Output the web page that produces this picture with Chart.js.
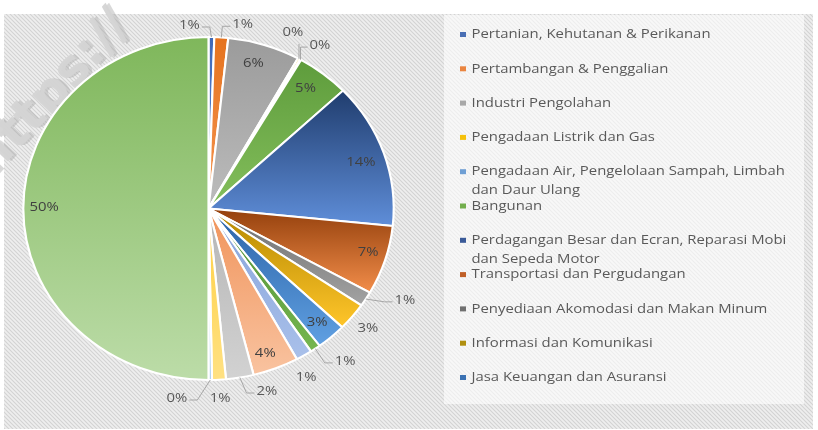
<!DOCTYPE html>
<html>
<head>
<meta charset="utf-8">
<script src="https://cdn.jsdelivr.net/npm/chart.js@4.4.0/dist/chart.umd.min.js"></script>
<style>
html,body{margin:0;padding:0;background:#fff;}
#wrap{width:818px;height:430px;position:relative;}
</style>
</head>
<body>
<div id="wrap"><canvas id="c"></canvas></div>
<script>
// ---------- data ----------
const categories = [
  'Pertanian, Kehutanan & Perikanan',
  'Pertambangan & Penggalian',
  'Industri Pengolahan',
  'Pengadaan Listrik dan Gas',
  'Pengadaan Air, Pengelolaan Sampah, Limbah dan Daur Ulang',
  'Bangunan',
  'Perdagangan Besar dan Ecran, Reparasi Mobi dan Sepeda Motor',
  'Transportasi dan Pergudangan',
  'Penyediaan Akomodasi dan Makan Minum',
  'Informasi dan Komunikasi',
  'Jasa Keuangan dan Asuransi',
  'Real Estat',
  'Jasa Perusahaan',
  'Administrasi Pemerintahan, Pertahanan dan Jaminan Sosial Wajib',
  'Jasa Pendidikan',
  'Jasa Kesehatan dan Kegiatan Sosial',
  'Jasa Lainnya',
  'Total'
];
const shareValues = [0.5, 1.2, 6.3, 0.2, 0.1, 4.6, 13.65, 6.5, 1.4, 2.6, 2.6, 0.9, 1.4, 4.0, 2.4, 1.2, 0.3, 49.85];
const legendShown = 11;
const watermarkText = 'https://';

// ---------- styles ----------
const topColors = ['#3f69b8','#e5731f','#9b9b9b','#f2b500','#4a8bc8','#5e9c3c','#203d6e','#94400c','#6c6c6c','#b38700','#2a62a6','#4f8e36','#86a3da','#f0935a','#b5b5b5','#ffcf40','#82b2df','#7fb75b'];
const bottomColors = ['#5d8ad8','#f59550','#bcbcbc','#ffca33','#6aa8e0','#84bf5c','#5f8ed9','#f28d4a','#a3a3a3','#ffc52a','#60a0e2','#76b64e','#a9c0ea','#f9c3a0','#d2d2d2','#ffe183','#a9ccee','#bcdca8'];
const markerColors = ['#4a6fb4','#ea8540','#a8a8a8','#f5c10c','#6f9fd4','#72ae4c','#3a5a98','#c06028','#707070','#b08f10','#3b72b3'];
// label placement: inside (fraction of radius) or outside (fraction + angle nudge in degrees)
const labelLayout = [
  {out:true, dist:1.075, nudge:-6.4, leader:true},
  {out:true, dist:1.09, nudge:5.8, leader:true},
  {out:false, dist:0.88, nudge:-1.5},
  {out:true, dist:1.126, nudge:-5.35, leader:true},
  {out:true, dist:1.127, nudge:2.5, leader:true},
  {out:false, dist:0.875, nudge:-1.5},
  {out:false, dist:0.867, nudge:0.5},
  {out:false, dist:0.9, nudge:-1},
  {out:true, dist:1.187, nudge:-5.2, leader:true},
  {out:true, dist:1.108, nudge:0},
  {out:false, dist:0.884, nudge:0},
  {out:true, dist:1.155, nudge:-4.5, leader:true},
  {out:true, dist:1.115, nudge:2.85},
  {out:false, dist:0.896, nudge:1.3},
  {out:true, dist:1.11, nudge:-6.75, leader:true},
  {out:true, dist:1.107, nudge:0},
  {out:true, dist:1.118, nudge:9.3, leader:true},
  {out:false, dist:0.888, nudge:0.5}
];
const STRETCH = 1.08;
const FONT_FAMILY = "'Open Sans', 'Noto Sans', sans-serif";
const FONT_SIZE = 13;

const total = shareValues.reduce((a,b)=>a+b,0);
let textScale = 1.08;

function gradientFor(c){
  const chart = c.chart, a = chart.chartArea, i = c.dataIndex;
  if (!a) return topColors[i];
  let cum = 0;
  for (let j=0;j<i;j++) cum += shareValues[j];
  const a0 = cum/total*2*Math.PI - Math.PI/2;
  const a1 = (cum+shareValues[i])/total*2*Math.PI - Math.PI/2;
  const cy = (a.top+a.bottom)/2;
  const r = 171.5;
  const ys = [cy, cy + r*Math.sin(a0), cy + r*Math.sin(a1)];
  [-Math.PI/2, Math.PI/2, 3*Math.PI/2].forEach(t => { if (t>=a0-1e-9 && t<=a1+1e-9) ys.push(cy + r*Math.sin(t)); });
  const y0 = Math.min(...ys), y1 = Math.max(...ys);
  const g = chart.ctx.createLinearGradient(0, y0, 0, Math.max(y1, y0+1));
  g.addColorStop(0, topColors[i]);
  g.addColorStop(1, bottomColors[i]);
  return g;
}

function stretchedText(ctx, text, x, y, sx){
  ctx.save();
  ctx.translate(x, y);
  ctx.scale(sx, 1);
  ctx.fillText(text, 0, 0);
  ctx.restore();
}

const decoPlugin = {
  id: 'deco',
  beforeDraw(chart){
    const ctx = chart.ctx;
    ctx.save();
    ctx.fillStyle = '#ffffff';
    ctx.fillRect(0,0,chart.width,chart.height);
    // hatch pattern
    const p = document.createElement('canvas');
    p.width = 4; p.height = 4;
    const pc = p.getContext('2d');
    pc.fillStyle = '#eeeeee'; pc.fillRect(0,0,4,4);
    pc.strokeStyle = '#d2d2d2'; pc.lineWidth = 1.1;
    pc.beginPath(); pc.moveTo(-1,-1); pc.lineTo(5,5); pc.moveTo(3,-1); pc.lineTo(5,1); pc.moveTo(-1,3); pc.lineTo(1,5); pc.stroke();
    ctx.fillStyle = ctx.createPattern(p, 'repeat');
    ctx.fillRect(4, 14, 809, 415);
    // legend box
    ctx.fillStyle = 'rgba(255,255,255,0.6)';
    ctx.fillRect(444, 15, 360, 389);
    // watermark
    ctx.translate(-8, 178);
    ctx.rotate(-47*Math.PI/180);
    ctx.font = "bold 50px 'DejaVu Sans', sans-serif";
    ctx.textBaseline = 'alphabetic';
    ctx.fillStyle = 'rgba(170,170,170,0.45)';
    ctx.fillText(watermarkText, 2.5, 2.5);
    ctx.fillStyle = 'rgba(212,212,212,0.95)';
    ctx.fillText(watermarkText, 0, 0);
    ctx.restore();
  },
  beforeDatasetsDraw(chart){
    const ctx = chart.ctx;
    const el = chart.getDatasetMeta(0).data[0];
    ctx.save();
    ctx.translate(el.x, 0);
    ctx.scale(STRETCH, 1);
    ctx.translate(-el.x, 0);
  },
  afterDatasetsDraw(chart){
    const ctx = chart.ctx;
    ctx.restore();
    ctx.save();
    ctx.font = FONT_SIZE + 'px ' + FONT_FAMILY;
    textScale = 239 / ctx.measureText(categories[0]).width;
    const sx = textScale;
    // pie labels
    const meta = chart.getDatasetMeta(0);
    meta.data.forEach((arc, i) => {
      const L = labelLayout[i];
      const mid = (arc.startAngle + arc.endAngle)/2 + L.nudge*Math.PI/180;
      const r = arc.outerRadius;
      const lx = arc.x + Math.cos(mid)*r*L.dist*STRETCH;
      const ly = arc.y + Math.sin(mid)*r*L.dist;
      const txt = Math.round(shareValues[i]/total*100) + '%';
      const hw = ctx.measureText(txt).width*sx/2;
      if (L.leader){
        const m0 = (arc.startAngle + arc.endAngle)/2;
        const S = {x: arc.x + Math.cos(m0)*r*STRETCH, y: arc.y + Math.sin(m0)*r};
        ctx.strokeStyle = '#a6a6a6';
        ctx.lineWidth = 1;
        ctx.beginPath();
        if (Math.abs(lx - S.x) < hw) {
          ctx.moveTo(S.x, S.y);
          ctx.lineTo(S.x, ly + (ly < S.y ? 12 : -12));
        } else {
          const dir = lx < S.x ? 1 : -1;
          const E = {x: lx + dir*(hw+2), y: ly + 2};
          const h = Math.min(8, Math.abs(S.x - E.x));
          const B = {x: E.x + dir*h, y: E.y};
          ctx.moveTo(E.x, E.y); ctx.lineTo(B.x, B.y); ctx.lineTo(S.x, S.y);
        }
        ctx.stroke();
      }
      ctx.fillStyle = L.out ? '#595959' : '#404040';
      ctx.textAlign = 'center';
      ctx.textBaseline = 'middle';
      stretchedText(ctx, txt, lx, ly, sx);
    });
    // legend
    ctx.textAlign = 'left';
    ctx.textBaseline = 'middle';
    const maxW = 328;
    for (let i=0;i<legendShown;i++){
      const y = 34.5 + i*34.3;
      ctx.fillStyle = markerColors[i];
      ctx.fillRect(460, y-2.5, 6, 5);
      ctx.fillStyle = '#595959';
      const words = categories[i].split(' ');
      const lines = [];
      let cur = '';
      words.forEach(w => {
        const t = cur ? cur + ' ' + w : w;
        if (ctx.measureText(t).width*sx > maxW && cur) { lines.push(cur); cur = w; } else cur = t;
      });
      lines.push(cur);
      lines.forEach((ln, k) => stretchedText(ctx, ln, 471.5, y + k*19, sx));
    }
    ctx.restore();
  }
};

new Chart(document.getElementById('c'), {
  type: 'pie',
  data: {
    labels: categories,
    datasets: [{
      data: shareValues,
      backgroundColor: gradientFor,
      borderColor: '#ffffff',
      borderWidth: 2,
      hoverBorderWidth: 2,
      clip: false
    }]
  },
  options: {
    responsive: true,
    maintainAspectRatio: false,
    animation: false,
    events: [],
    radius: 171.5,
    layout: { padding: { left: 37, top: 37, right: 438, bottom: 50 } },
    plugins: {
      legend: { display: false },
      tooltip: { enabled: false },
      title: { display: false }
    }
  },
  plugins: [decoPlugin]
});
</script>
</body>
</html>
